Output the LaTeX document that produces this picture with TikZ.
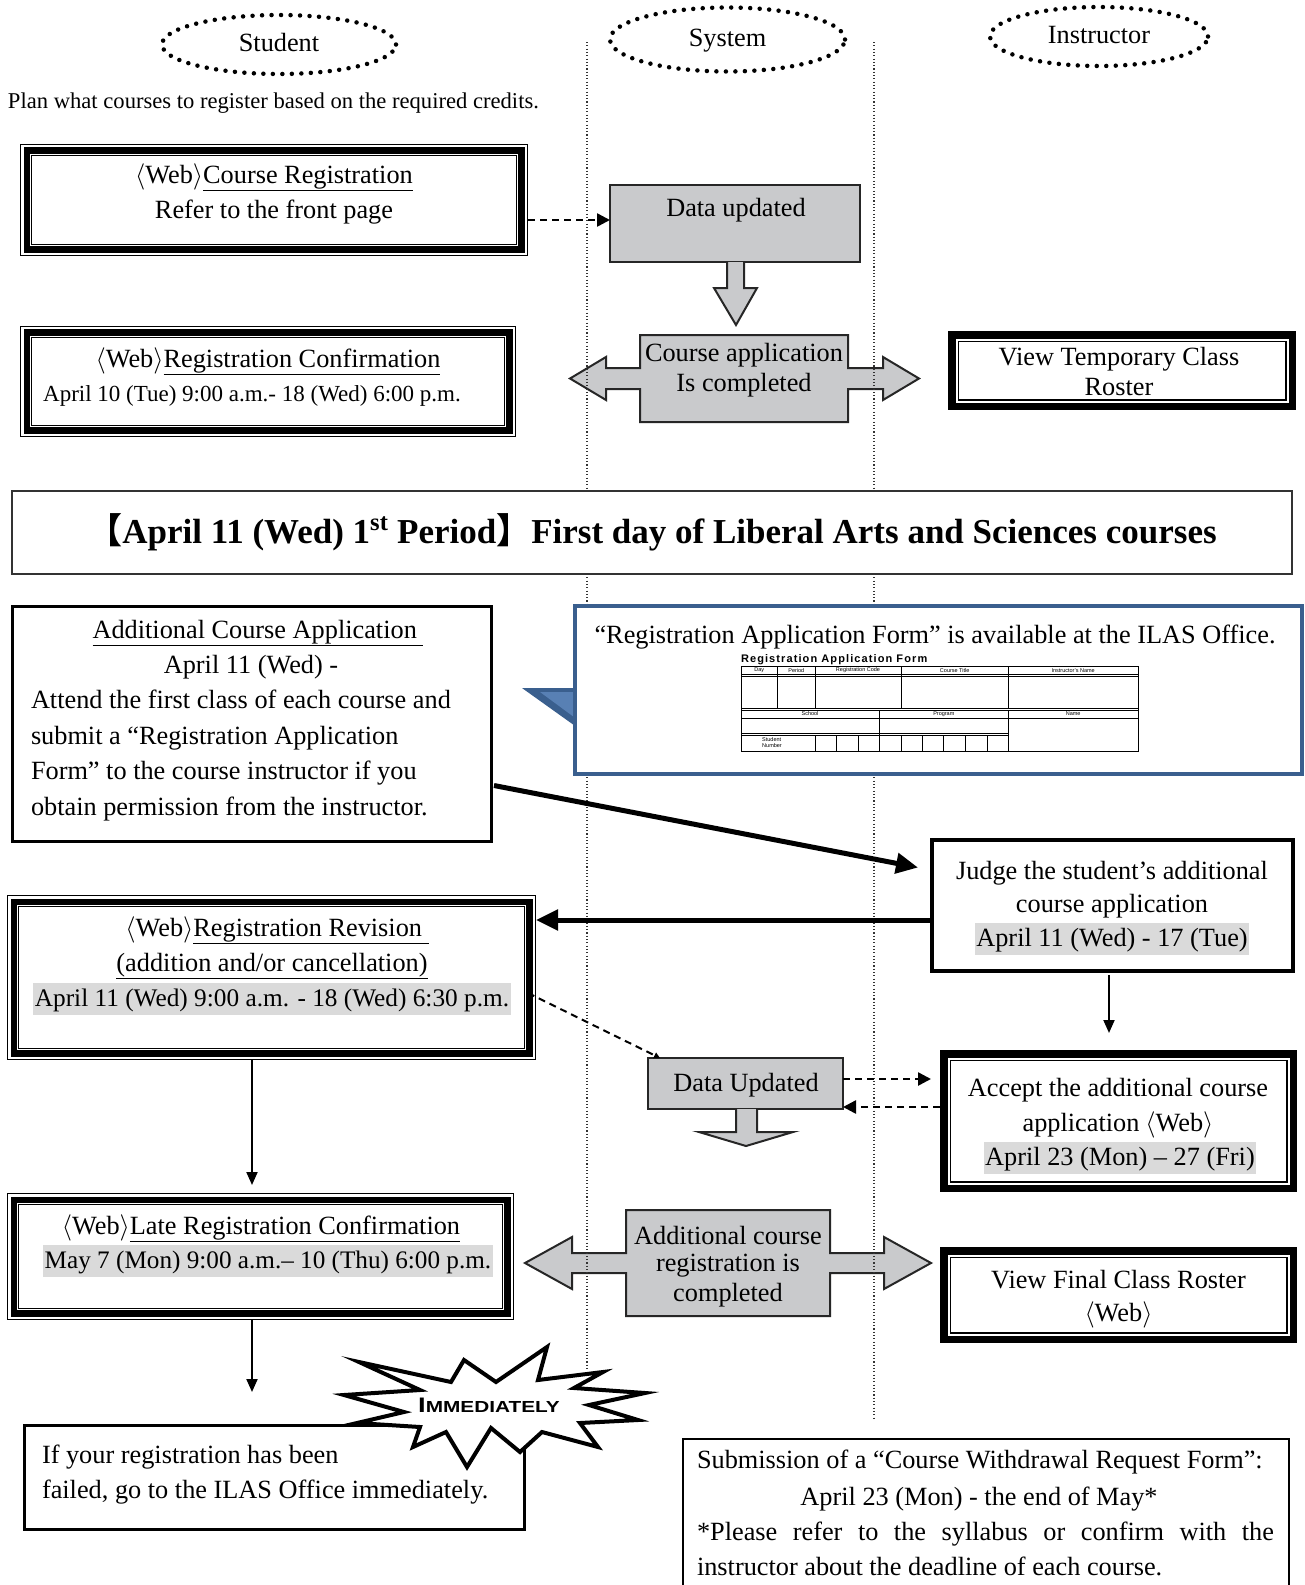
\documentclass[tikz,border=0pt]{standalone}
\usepackage{fix-cm}
\usepackage{fontspec}
\setmainfont{Liberation Serif}
\setsansfont{Liberation Sans}
\newfontfamily\cjk{Noto Sans CJK JP}
\usepackage{graphicx}
\usetikzlibrary{shapes.geometric,arrows.meta}
\definecolor{boxgray}{RGB}{201,202,204}
\definecolor{hlgray}{RGB}{218,218,218}
\definecolor{callblue}{RGB}{58,95,142}
\definecolor{callblue2}{RGB}{88,128,180}
\newcommand{\webtag}{$\langle$Web$\rangle$}
\tikzset{
  every node/.style={inner sep=0pt, outer sep=0pt},
  lane/.style={line width=1.1pt, dash pattern=on 1.1pt off 2.2pt, black!80},
  role/.style={ellipse, draw, line width=4.5pt, dash pattern=on 0pt off 9.5pt, line cap=round, font=\fontsize{26.3}{30}\selectfont, text height=18pt, text depth=5pt},
  stubox/.style={draw=none, fill=white, path picture={
     \draw[line width=1.4pt] ([shift={(0.7pt,0.7pt)}]path picture bounding box.south west) rectangle ([shift={(-0.7pt,-0.7pt)}]path picture bounding box.north east);
     \draw[line width=6.5pt] ([shift={(6.75pt,6.75pt)}]path picture bounding box.south west) rectangle ([shift={(-6.75pt,-6.75pt)}]path picture bounding box.north east);
     \draw[line width=1.2pt] ([shift={(11.6pt,11.6pt)}]path picture bounding box.south west) rectangle ([shift={(-11.6pt,-11.6pt)}]path picture bounding box.north east);
  }},
  insbox/.style={draw=none, fill=white, path picture={
     \draw[line width=7.5pt] ([shift={(3.75pt,3.75pt)}]path picture bounding box.south west) rectangle ([shift={(-3.75pt,-3.75pt)}]path picture bounding box.north east);
     \draw[line width=1.5pt] ([shift={(10.25pt,10.25pt)}]path picture bounding box.south west) rectangle ([shift={(-10.25pt,-10.25pt)}]path picture bounding box.north east);
  }},
  plainbox/.style={draw, line width=#1, fill=white},
  graybox/.style={draw=black!85, line width=2pt, fill=boxgray},
  grayshape/.style={draw=black!85, line width=2pt, fill=boxgray},
  tx/.style={font=\fontsize{26.3}{30}\selectfont, anchor=base},
  tsm/.style={font=\fontsize{23}{27}\selectfont, anchor=base},
  hl/.style={fill=hlgray, inner xsep=1.5pt, text height=23pt, text depth=9pt},
  dasharr/.style={line width=2.5pt, dash pattern=on 7pt off 5pt, -{Triangle[length=13pt,width=13pt]}},
  bigarr/.style={line width=5pt, -{Triangle[length=22pt,width=20pt]}},
  thinarr/.style={line width=2pt, -{Triangle[length=13pt,width=11pt]}},
  fdash/.style={line width=2pt, dash pattern=on 7pt off 5pt, -{Triangle[length=6pt,width=6pt]}},
  ftab/.style={font=\sffamily\fontsize{5.5}{6}\selectfont}
}
\begin{document}
\begin{tikzpicture}[x=1pt,y=1pt]
\useasboundingbox (0,0) rectangle (1305,-1585);
\fill[white] (0,0) rectangle (1305,-1585);

% lane headers
\node[role, minimum width=234pt, minimum height=59pt] (stu) at (279,-44.5) {Student};
\node[role, minimum width=235pt, minimum height=64pt] (sys) at (727.5,-39.5) {System};
\node[role, minimum width=218pt, minimum height=59pt] (ins) at (1099,-36.5) {Instructor};

\node[font=\fontsize{22.6}{26}\selectfont, anchor=base west] (plan) at (8,-108) {Plan what courses to register based on the required credits.};

% grey system shapes
\node[graybox, minimum width=250pt, minimum height=77pt] (du1) at (735,-223.5) {};
\draw[grayshape] (727,-262) -- (727,-288) -- (714,-288) -- (736,-325) -- (757,-288) -- (744,-288) -- (744,-262);
\draw[grayshape] (640,-335) -- (848,-335) -- (848,-368) -- (883,-368) -- (883,-357) -- (919,-378.5) -- (883,-400) -- (883,-389) -- (848,-389) -- (848,-422) -- (640,-422) -- (640,-389) -- (606,-389) -- (606,-400) -- (570,-378.5) -- (606,-357) -- (606,-368) -- (640,-368) -- cycle;
\node[minimum width=208pt, minimum height=87pt] (ca) at (744,-378.5) {};
\node[graybox, minimum width=195pt, minimum height=51pt] (du2) at (745.5,-1083.5) {};
\draw[grayshape] (736,-1109) -- (736,-1132) -- (699,-1132) -- (746,-1146) -- (793,-1132) -- (757,-1132) -- (757,-1109);
\draw[grayshape] (626,-1210) -- (830,-1210) -- (830,-1253) -- (884,-1253) -- (884,-1237) -- (931,-1263) -- (884,-1289) -- (884,-1273) -- (830,-1273) -- (830,-1316) -- (626,-1316) -- (626,-1273) -- (572,-1273) -- (572,-1289) -- (525,-1263) -- (572,-1237) -- (572,-1253) -- (626,-1253) -- cycle;
\node[minimum width=204pt, minimum height=106pt] (acr) at (728,-1263) {};

% lane lines
\foreach \x in {587,874} {
  \draw[lane] (\x,-42) -- (\x,-491);
  \draw[lane] (\x,-574) -- (\x,-606);
}
\draw[lane] (587,-774) -- (587,-1370);
\draw[lane] (874,-774) -- (874,-1420);

% texts in grey shapes
\node[tx] (du1t) at (736,-216) {Data updated};
\node[tx] (ca1) at (744,-361) {Course application};
\node[tx] (ca2) at (744,-391) {Is completed};
\node[tx] (du2t) at (746,-1091) {Data Updated};
\node[tx] (acr1) at (728,-1244) {Additional course};
\node[tx] (acr2) at (728,-1271) {registration is};
\node[tx] (acr3) at (728,-1301) {completed};

% top student boxes
\node[stubox, minimum width=508pt, minimum height=112.5pt] (a) at (274,-199.75) {};
\node[tx] (a1) at (274,-183) {\webtag\underline{Course Registration}};
\node[tx] (a2) at (274,-218) {Refer to the front page};
\node[stubox, minimum width=496pt, minimum height=111.5pt] (b) at (268,-381.25) {};
\node[tx] (b1) at (268,-367) {\webtag\underline{Registration Confirmation}};
\node[tsm] (b2) at (252,-401) {April 10 (Tue) 9:00 a.m.- 18 (Wed) 6:00 p.m.};

\node[insbox, minimum width=348pt, minimum height=79pt] (vt) at (1122,-370.5) {};
\node[tx] (vt1) at (1119,-365) {View Temporary Class};
\node[tx] (vt2) at (1119,-395) {Roster};

\draw[dasharr] ([yshift=-20.25pt]a.east) -- ([yshift=3.5pt]du1.west);

% banner
\node[draw=black!80, line width=1.5pt, fill=white, minimum width=1280pt, minimum height=83pt, font=\fontsize{35}{40}\selectfont\bfseries] (ban) at (652,-532.5) {{\cjk 【}April 11 (Wed) 1\textsuperscript{st} Period{\cjk 】}First day of Liberal Arts and Sciences courses};

% callout
\fill[callblue] (522,-688) -- (578,-688) -- (578,-728) -- cycle;
\fill[callblue2] (540,-692) -- (578,-692) -- (578,-720) -- cycle;
\node[draw=callblue, line width=4pt, fill=white, minimum width=727pt, minimum height=168pt] (bl) at (938.5,-690) {};
\node[tx] (blt) at (935,-643) {“Registration Application Form” is available at the ILAS Office.};
\node[font=\sffamily\bfseries\fontsize{11}{12}\selectfont, anchor=west] (ftitle) at (741,-660) {\addfontfeature{LetterSpace=10}Registration Application Form};
\begin{scope}[line width=0.7pt]
\draw (741,-666) rectangle (1138,-751);
\draw (741,-674.5) -- (1138,-674.5);
\draw (741,-676.5) -- (1138,-676.5);
\foreach \x in {777.6,815,901,1008.5} \draw (\x,-666) -- (\x,-708);
\draw (741,-708) -- (1138,-708);
\draw (741,-710) -- (1138,-710);
\draw (879.2,-710) -- (879.2,-751);
\draw (1008.5,-710) -- (1008.5,-751);
\draw (741,-718) -- (1138,-718);
\draw (741,-733) -- (1008.5,-733);
\draw (741,-735) -- (1008.5,-735);
\foreach \x in {815,836.5,858.3,901,922.5,943.8,965.2,987} \draw (\x,-735) -- (\x,-751);
\end{scope}
\node[ftab] (fday) at (759.3,-670.3) {Day};
\node[ftab] (fper) at (796.3,-670.3) {Period};
\node[ftab] (fcode) at (858,-670.3) {Registration Code};
\node[ftab] (ftit) at (954.7,-670.3) {Course Title};
\node[ftab] (finst) at (1073.2,-670.3) {Instructor’s Name};
\node[ftab] (fsch) at (810,-714) {School};
\node[ftab] (fprog) at (943.8,-714) {Program};
\node[ftab] (fname) at (1073.2,-714) {Name};
\node[ftab, align=left] (fsn) at (772,-743) {Student\\Number};

% additional course application
\node[plainbox=3pt, minimum width=479pt, minimum height=235pt] (ad) at (251.5,-723.5) {};
\node[tx] (ad1) at (258,-638) {\underline{Additional Course Application\ }};
\node[tx] (ad2) at (251,-673) {April 11 (Wed) -};
\node[tx, anchor=base west] (ad3) at (31,-708.5) {Attend the first class of each course and};
\node[tx, anchor=base west] (ad4) at (31,-744) {submit a “Registration Application};
\node[tx, anchor=base west] (ad5) at (31,-779) {Form” to the course instructor if you};
\node[tx, anchor=base west] (ad6) at (31,-815) {obtain permission from the instructor.};

% judge
\node[plainbox=4pt, minimum width=361pt, minimum height=131pt] (j) at (1112.5,-905.5) {};
\node[tx] (j1) at (1112,-879) {Judge the student’s additional};
\node[tx] (j2) at (1112,-912) {course application};
\node[tx, hl] (j3) at (1112,-946) {April 11 (Wed) - 17 (Tue)};

\draw[bigarr] ([xshift=3pt,yshift=-62pt]ad.east) -- ([xshift=-14pt,yshift=38pt]j.west);

% registration revision
\node[stubox, minimum width=529pt, minimum height=165pt] (rr) at (271.5,-977.5) {};
\node[tx] (rr1) at (277,-936) {\webtag\underline{Registration Revision\ }};
\node[tx] (rr2) at (272,-971) {\underline{(addition and/or cancellation)}};
\node[tx, hl, font=\fontsize{25.3}{28}\selectfont] (rr3) at (272,-1006) {April 11 (Wed) 9:00 a.m. - 18 (Wed) 6:30 p.m.};

\draw[bigarr] ([yshift=-14.5pt]j.west) -- ([yshift=57.5pt]rr.east);

% accept
\node[insbox, minimum width=357pt, minimum height=142pt] (ac) at (1118.5,-1121) {};
\node[tx] (ac1) at (1118,-1096) {Accept the additional course};
\node[tx] (ac2) at (1118,-1131) {application\hspace{6pt}\webtag};
\node[tx, hl] (ac3) at (1120,-1165) {April 23 (Mon) – 27 (Fri)};

\draw[thinarr] ([xshift=-3.5pt,yshift=-4pt]j.south) -- ([xshift=-9.5pt,yshift=17pt]ac.north);
\draw[dasharr] ([yshift=4.5pt]du2.east) -- ([xshift=-9pt,yshift=42pt]ac.west);
\draw[dasharr] ([yshift=14pt]ac.west) -- ([yshift=-23.5pt]du2.east);
\draw[fdash] ([xshift=-8pt,yshift=-15.5pt]rr.east) -- ([xshift=12pt]du2.north west);

% late registration
\node[stubox, minimum width=507pt, minimum height=127pt] (lr) at (260.5,-1256.5) {};
\node[tx] (lr1) at (261,-1234) {\webtag\underline{Late Registration Confirmation}};
\node[tx, hl, font=\fontsize{25.2}{28}\selectfont] (lr2) at (268,-1268) {May 7 (Mon) 9:00 a.m.– 10 (Thu) 6:00 p.m.};
\draw[thinarr] ([xshift=-19.5pt]rr.south) -- ([xshift=-8.5pt,yshift=8pt]lr.north);

% final roster
\node[insbox, minimum width=357pt, minimum height=96pt] (fr) at (1118.5,-1295) {};
\node[tx] (fr1) at (1118.5,-1288) {View Final Class Roster};
\node[tx] (fr2) at (1118.5,-1321) {\webtag};

% failed
\node[plainbox=3pt, minimum width=500pt, minimum height=104pt] (fa) at (274.5,-1477) {};
\node[tx, anchor=base west] (fa1) at (42,-1463) {If your registration has been};
\node[tx, anchor=base west] (fa2) at (42,-1498) {failed, go to the ILAS Office immediately.};
\draw[thinarr] ([xshift=-8.5pt]lr.south) -- ([xshift=-22.5pt,yshift=33pt]fa.north);

% starburst
\draw[line width=4pt, fill=white] (359,-1362) -- (451,-1382) -- (464,-1360) -- (496,-1382) -- (547,-1347) -- (538,-1380) -- (603,-1372) -- (574,-1388) -- (645,-1393) -- (589,-1405) -- (638,-1420) -- (580,-1423) -- (598,-1447) -- (542,-1432) -- (520,-1452) -- (491,-1428) -- (467,-1467) -- (446,-1432) -- (413,-1447) -- (420,-1427) -- (357,-1423) -- (404,-1412) -- (344,-1395) -- (420,-1390) -- cycle;
\node[font=\sffamily\bfseries] (imm) at (489,-1405) {\scalebox{1.3}[1]{\fontsize{21}{21}\selectfont I\fontsize{16}{16}\selectfont MMEDIATELY}};

% withdrawal
\node[plainbox=2.5pt, minimum width=606pt, minimum height=153pt] (wd) at (986,-1515.5) {};
\node[tx, anchor=base west] (wd1) at (697,-1468) {Submission of a “Course Withdrawal Request Form”:};
\node[tx] (wd2) at (979,-1505) {April 23 (Mon) - the end of May*};
\node[tx, anchor=base west] (wd3) at (697,-1540) {\makebox[577pt][s]{*Please refer to the syllabus or confirm with the}};
\node[tx, anchor=base west] (wd4) at (697,-1575) {instructor about the deadline of each course.};
\end{tikzpicture}
\end{document}
